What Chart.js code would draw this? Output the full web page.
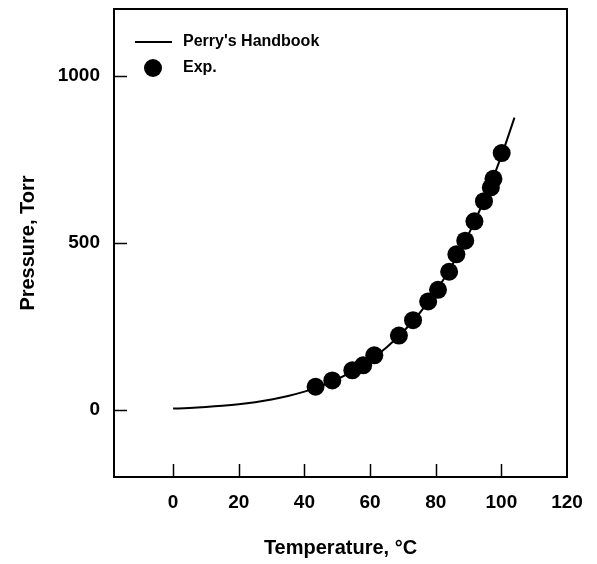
<!DOCTYPE html>
<html>
<head>
<meta charset="utf-8">
<script src="https://cdn.jsdelivr.net/npm/chart.js@4.4.1/dist/chart.umd.min.js"></script>
<style>
  html, body { margin: 0; padding: 0; background: #fff; }
  #wrap { width: 597px; height: 564px; }
</style>
</head>
<body>
<div id="wrap"><canvas id="chart" width="597" height="564"></canvas></div>
<script>
// --- data ---
// Perry's Handbook curve (temperature in C, pressure in Torr)
const curveTemps = [0, 5, 10, 15, 20, 25, 30, 35, 40, 45, 50, 55, 60, 65, 70, 75, 80, 85, 90, 95, 100, 104];
const curvePress = [4.6, 6.5, 9.2, 12.8, 17.5, 23.8, 31.8, 42.2, 55.3, 71.9, 92.5, 118, 149.4, 187.5, 233.7, 289.1, 355.1, 433.6, 525.8, 633.9, 760, 875];

// experimental points
const expTemps = [43.4, 48.5, 54.6, 57.9, 61.3, 68.8, 73.1, 77.7, 80.7, 84.1, 86.3, 89.0, 91.8, 94.7, 96.8, 97.6, 100.1];
const expPress = [70, 89, 119, 134, 164, 223, 269, 325, 360, 414, 466, 507, 565, 625, 666, 692, 769];

const xTicks = [0, 20, 40, 60, 80, 100, 120];
const yTicks = [0, 500, 1000];
const legendLabels = ["Perry's Handbook", "Exp."];

const FONT = "'Liberation Sans', Arial, sans-serif";

// inward ticks, box frame and legend
const framePlugin = {
  id: 'frame',
  afterDraw(chart) {
    const { ctx, chartArea: a, scales: { x, y } } = chart;
    ctx.save();
    ctx.strokeStyle = '#000';
    ctx.lineWidth = 2;
    ctx.strokeRect(a.left, a.top, a.right - a.left, a.bottom - a.top);
    ctx.lineWidth = 1.5;
    ctx.beginPath();
    xTicks.slice(0, -1).forEach(v => {
      const px = Math.round(x.getPixelForValue(v)) + 0.5;
      ctx.moveTo(px, a.bottom);
      ctx.lineTo(px, a.bottom - 13);
    });
    yTicks.forEach(v => {
      const py = Math.round(y.getPixelForValue(v)) + 0.5;
      ctx.moveTo(a.left, py);
      ctx.lineTo(a.left + 13, py);
    });
    ctx.stroke();

    // legend
    ctx.lineWidth = 2;
    ctx.beginPath();
    ctx.moveTo(135, 42);
    ctx.lineTo(172, 42);
    ctx.stroke();
    ctx.fillStyle = '#000';
    ctx.beginPath();
    ctx.arc(153, 68, 9, 0, Math.PI * 2);
    ctx.fill();
    ctx.font = `bold 16px ${FONT}`;
    ctx.textBaseline = 'middle';
    ctx.fillText(legendLabels[0], 183, 42);
    ctx.fillText(legendLabels[1], 183, 68);
    ctx.restore();
  }
};

new Chart(document.getElementById('chart'), {
  type: 'scatter',
  data: {
    datasets: [
      {
        label: legendLabels[0],
        data: curveTemps.map((t, i) => ({ x: t, y: curvePress[i] })),
        showLine: true,
        borderColor: '#000',
        borderWidth: 2,
        pointRadius: 0,
        cubicInterpolationMode: 'monotone'
      },
      {
        label: legendLabels[1],
        data: expTemps.map((t, i) => ({ x: t, y: expPress[i] })),
        showLine: false,
        backgroundColor: '#000',
        borderColor: '#000',
        pointRadius: 9,
        pointBorderWidth: 0
      }
    ]
  },
  options: {
    responsive: false,
    animation: false,
    layout: { padding: { top: 7, right: 30, left: 0, bottom: 0 } },
    plugins: {
      legend: { display: false },
      tooltip: { enabled: false }
    },
    scales: {
      x: {
        type: 'linear',
        min: -18,
        max: 120,
        afterBuildTicks: s => { s.ticks = xTicks.map(v => ({ value: v })); },
        afterFit: s => { s.height = 87; s.paddingLeft = 0; s.paddingRight = 0; },
        grid: { display: false, drawTicks: false },
        border: { display: false },
        ticks: { color: '#000', padding: 14, font: { family: FONT, size: 19, weight: 'bold' } },
        title: {
          display: true,
          text: 'Temperature, °C',
          color: '#000',
          padding: { top: 0, bottom: 4 },
          font: { family: FONT, size: 20, weight: 'bold' }
        }
      },
      y: {
        type: 'linear',
        min: -200,
        max: 1200,
        afterBuildTicks: s => { s.ticks = yTicks.map(v => ({ value: v })); },
        afterFit: s => { s.width = 114; s.paddingTop = 0; s.paddingBottom = 0; },
        grid: { display: false, drawTicks: false },
        border: { display: false },
        ticks: {
          color: '#000',
          padding: 14,
          callback: v => String(v),
          font: { family: FONT, size: 19, weight: 'bold' }
        },
        title: {
          display: true,
          text: 'Pressure, Torr',
          color: '#000',
          padding: { top: 16, bottom: 0 },
          font: { family: FONT, size: 20, weight: 'bold' }
        }
      }
    }
  },
  plugins: [framePlugin]
});
</script>
</body>
</html>
